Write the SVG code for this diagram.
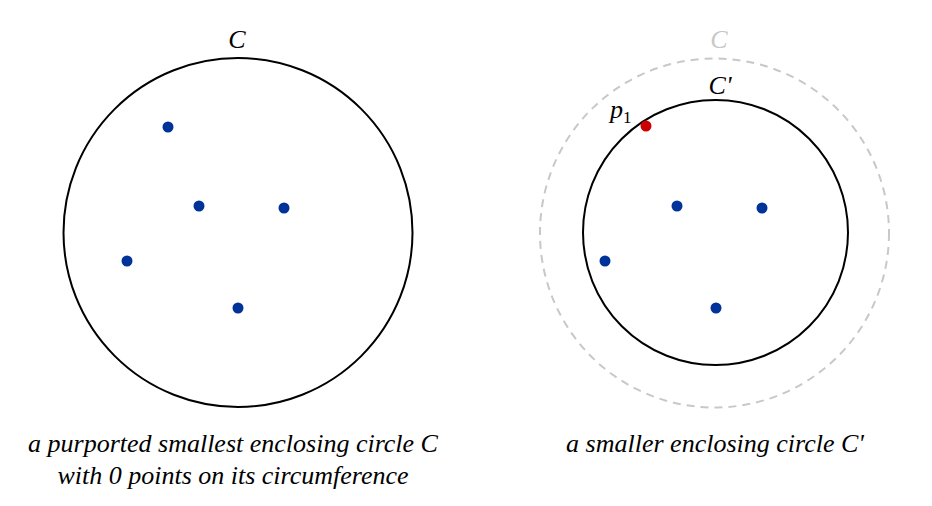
<svg xmlns="http://www.w3.org/2000/svg" width="932" height="506" viewBox="0 0 932 506">
<style>
.lbl{font-family:"Liberation Serif",serif;font-style:italic;font-size:26px;fill:#000;text-anchor:middle}
.pt{fill:#003399}
.circ{fill:none;stroke:#000;stroke-width:2}
</style>
<rect width="932" height="506" fill="#fff"/>
<g id="left-circle">
<circle class="circ" cx="238" cy="232.5" r="174.5"/>
<text class="lbl" x="237" y="48">C</text>
</g>
<g id="left-points">
<circle class="pt" cx="168" cy="127" r="5.5"/>
<circle class="pt" cx="199" cy="206" r="5.5"/>
<circle class="pt" cx="284" cy="208" r="5.5"/>
<circle class="pt" cx="127" cy="261" r="5.5"/>
<circle class="pt" cx="238" cy="308" r="5.5"/>
</g>
<g id="right-dashed-circle">
<circle cx="714.5" cy="233" r="174.5" fill="none" stroke="#c8c8c8" stroke-width="2" stroke-dasharray="8,6"/>
<text class="lbl" x="719" y="48" style="fill:#c8c8c8">C</text>
</g>
<g id="right-circle">
<circle class="circ" cx="715.5" cy="232.5" r="132.5"/>
<text class="lbl" x="720" y="94">C'</text>
</g>
<g id="right-points">
<circle class="pt" cx="677" cy="206" r="5.5"/>
<circle class="pt" cx="762" cy="208" r="5.5"/>
<circle class="pt" cx="605" cy="261" r="5.5"/>
<circle class="pt" cx="716" cy="308" r="5.5"/>
<circle cx="646" cy="126" r="5.5" fill="#cc0000"/>
<text class="lbl" x="610" y="118" style="text-anchor:start">p<tspan font-style="normal" font-size="17" dy="5">1</tspan></text>
</g>
<g id="captions">
<text class="lbl" x="233" y="452">a purported smallest enclosing circle C</text>
<text class="lbl" x="233" y="484">with 0 points on its circumference</text>
<text class="lbl" x="715" y="452">a smaller enclosing circle C'</text>
</g>
<g id="connectors"></g>
</svg>
